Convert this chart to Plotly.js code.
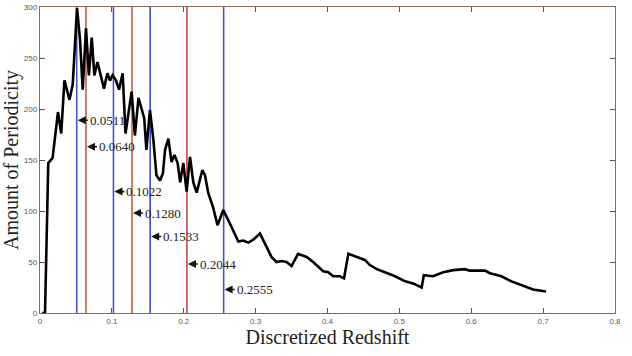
<!DOCTYPE html>
<html><head><meta charset="utf-8">
<script src="https://cdn.plot.ly/plotly-3.0.1.min.js"></script>
<style>html,body{margin:0;padding:0;background:#fff}#chart{width:632px;height:356px}</style>
</head><body><div id="chart"></div>
<script>
// Curve: discretized redshift vs amount of periodicity
const redshift = [0.003,0.007,0.0115,0.0175,0.025,0.0295,0.034,0.041,0.0455,0.0515,0.0557,0.0594,0.064,0.068,0.072,0.0756,0.080,0.0844,0.089,0.0937,0.0974,0.101,0.1057,0.110,0.115,0.119,0.1275,0.132,0.137,0.145,0.148,0.153,0.1577,0.162,0.167,0.171,0.174,0.1786,0.183,0.187,0.1915,0.195,0.1994,0.204,0.2087,0.2133,0.218,0.2258,0.2296,0.234,0.241,0.247,0.255,0.264,0.276,0.283,0.290,0.297,0.306,0.313,0.322,0.329,0.336,0.343,0.350,0.359,0.371,0.380,0.394,0.401,0.408,0.4174,0.423,0.429,0.4406,0.452,0.459,0.4685,0.480,0.494,0.508,0.519,0.531,0.534,0.547,0.561,0.575,0.591,0.598,0.619,0.626,0.642,0.656,0.672,0.686,0.704];
const periodicity = [0,0,147,152,197,176,228,209,224,299,268,219,279,233,270,233,246,233,220,235,228,233,228,219,235,176,217,174,211,191,160,199,170,135,130,137,160,171,148,155,147,128,147,119,153,128,118,140,135,118,103,86,101,88,70,71,69,72,78,68,55,50,51,50,46,58,55,50,41,40,36,36,34,58,55,52,47,43,40,36,31,29,25,37,36,40,42,43,41.5,41.5,39,36,31,26.5,23,21];
// Marked periodicity positions
const markX = [0.0511,0.0640,0.1022,0.1280,0.1533,0.2044,0.2555];
const markLabels = ["0.0511","0.0640","0.1022","0.1280","0.1533","0.2044","0.2555"];
const markLabelY = [189,163,119,98,75,48,23];
const markColors = ["#4a52c8","#c0603a","#4a52c8","#c0603a","#3a48c8","#c04a4a","#4a52c8"];
const xTicks = [0,0.1,0.2,0.3,0.4,0.5,0.6,0.7,0.8];
const yTicks = [0,50,100,150,200,250,300];

const traces = markX.map((v,i)=>({x:[v,v],y:[0,300],mode:'lines',line:{color:markColors[i],width:1.6},hoverinfo:'skip',showlegend:false}));
traces.push({x:redshift,y:periodicity,mode:'lines',line:{color:'#000',width:2.6},showlegend:false});

const annotations = markX.map((v,i)=>({x:v,y:markLabelY[i],xref:'x',yref:'y',text:markLabels[i],showarrow:true,arrowhead:2,arrowsize:1,arrowwidth:1.6,arrowcolor:'#111',ax:11,ay:0,xanchor:'left',standoff:1,font:{family:'Liberation Serif, Times New Roman, serif',size:13,color:'#222'}}));

const axCommon = {showgrid:false,zeroline:false,showline:true,linecolor:'#8a6a55',linewidth:1.2,mirror:'ticks',ticks:'inside',ticklen:5,tickcolor:'#555',tickwidth:1,tickfont:{family:'Liberation Sans, Arial, sans-serif',size:8,color:'#555'}};
const layout = {
  width:632,height:356,margin:{l:40,r:17,t:7,b:43},paper_bgcolor:'#fff',plot_bgcolor:'#fff',
  xaxis:Object.assign({},axCommon,{range:[0,0.8],tickvals:xTicks,ticktext:xTicks.map(String),title:{text:'Discretized Redshift',standoff:4,font:{family:'Liberation Serif, Times New Roman, serif',size:20,color:'#222'}}}),
  yaxis:Object.assign({},axCommon,{range:[0,300],tickvals:yTicks,ticktext:yTicks.map(String),title:{text:'Amount of Periodicity',standoff:4,font:{family:'Liberation Serif, Times New Roman, serif',size:20,color:'#222'}}}),
  annotations:annotations
};
Plotly.newPlot('chart',traces,layout,{displayModeBar:false,staticPlot:true});
</script></body></html>
